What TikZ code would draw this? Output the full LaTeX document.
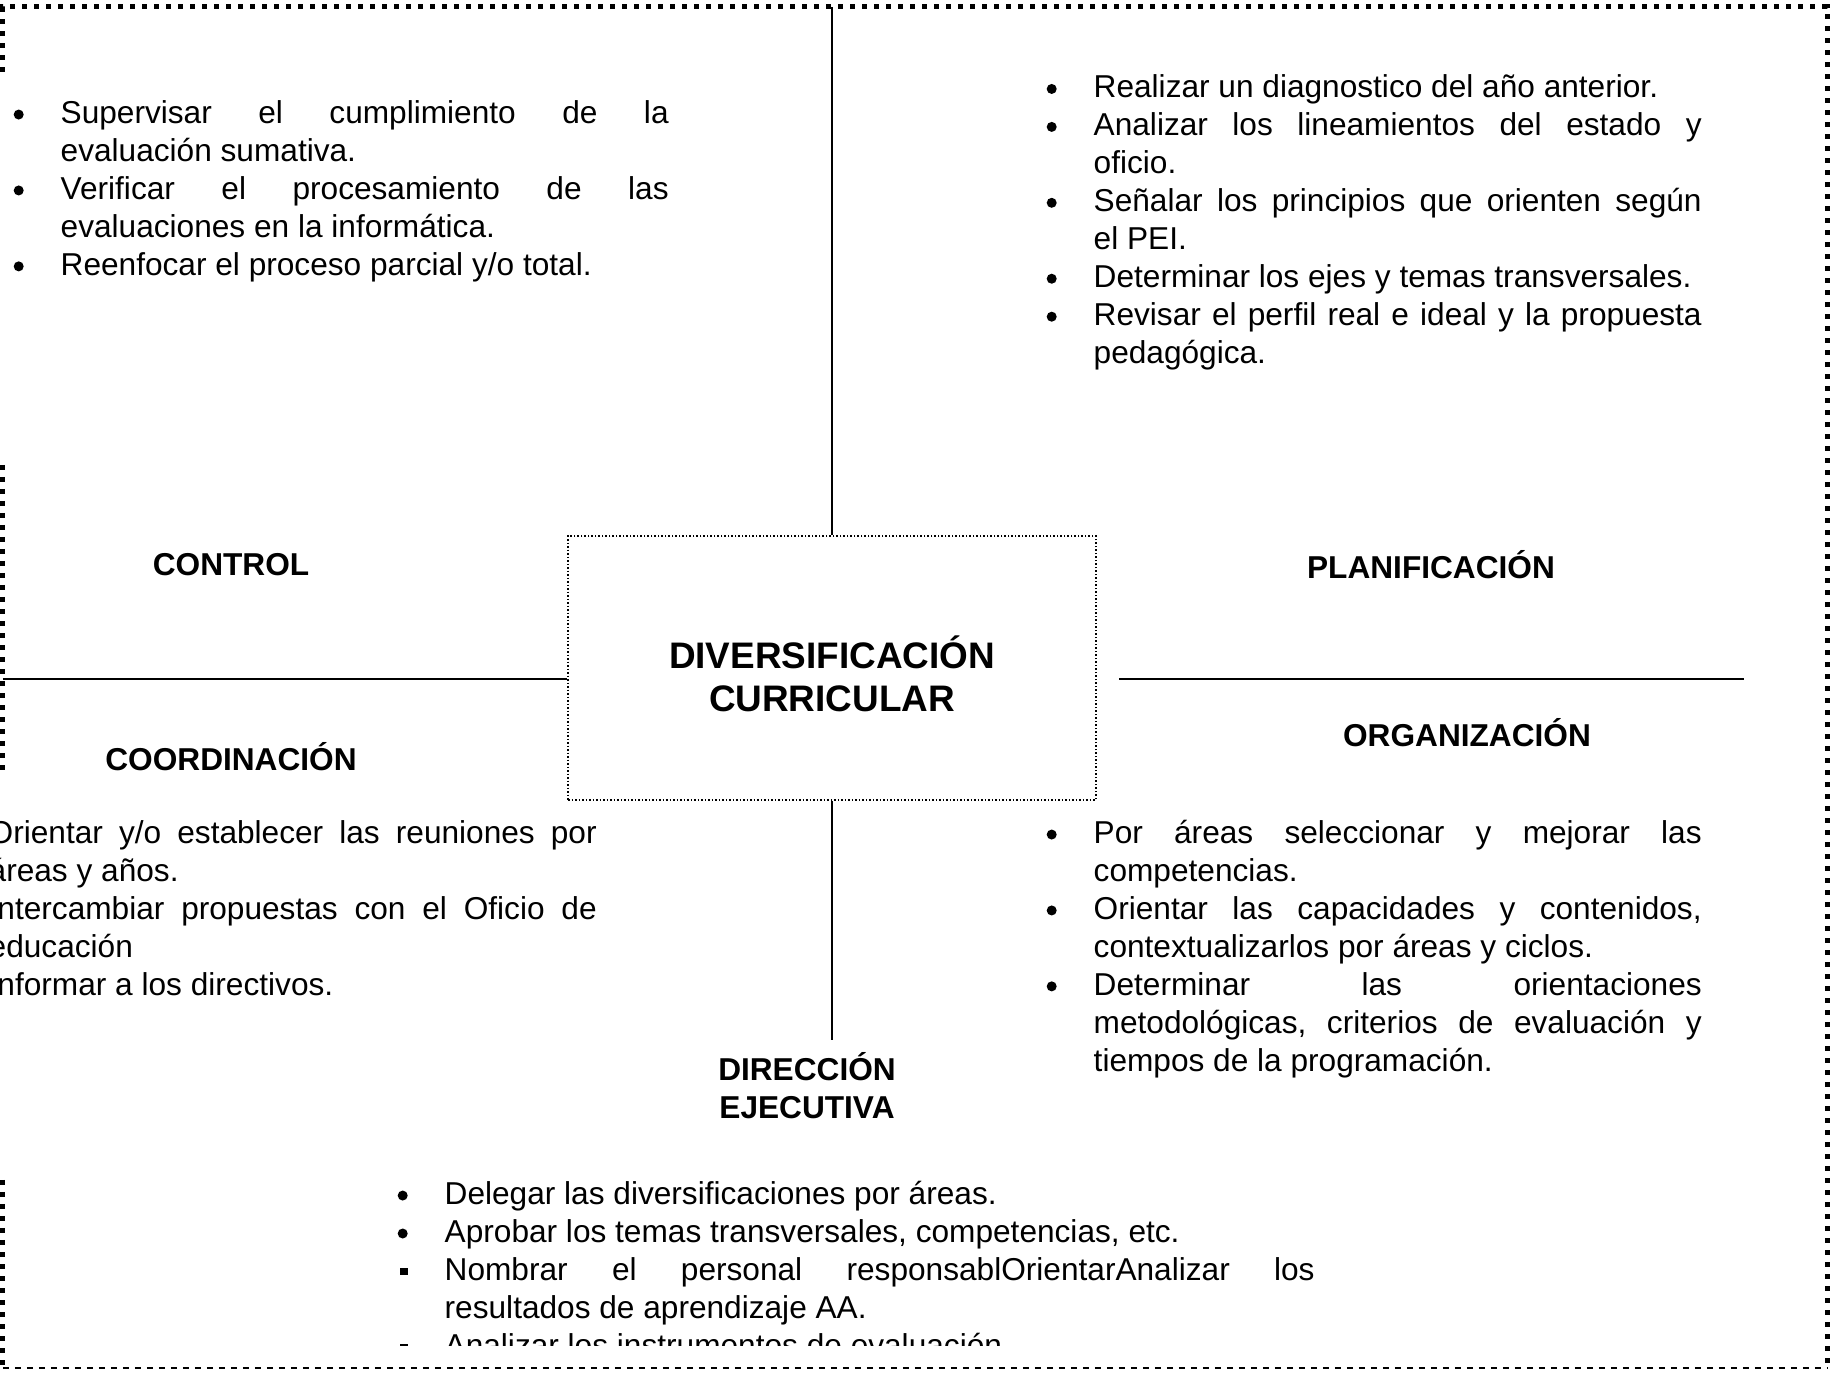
\documentclass[tikz,border=0pt]{standalone}
\usepackage{fontspec}
\setmainfont{Liberation Sans}
\usetikzlibrary{positioning}

\hyphenpenalty=10000
\exhyphenpenalty=10000
\tolerance=10000
\adjdemerits=0

\newcommand{\sinencoger}{\frenchspacing\spaceskip=\fontdimen2\font plus \fontdimen3\font minus 0pt\relax}
\newcommand{\punto}{\tikz[baseline=0pt]\fill (0.05,0.09) circle (0.05);}
\newcommand{\cuadro}{\tikz[baseline=0pt]\fill (0,0.05) rectangle (0.075,0.125);}
\newcommand{\bajar}[1]{\raisebox{-0.06cm}[\height][\depth]{#1}}
\newenvironment{vinetas}{\begin{list}{\punto}{%
  \setlength{\leftmargin}{0.5cm}\setlength{\labelwidth}{0.1cm}%
  \setlength{\labelsep}{0.37cm}\setlength{\itemsep}{0pt}%
  \setlength{\parsep}{0pt}\setlength{\topsep}{0pt}\setlength{\partopsep}{0pt}}}%
  {\end{list}}

\tikzset{
  texto/.style={anchor=base west, inner sep=0pt, font=\fontsize{9}{10.8}\selectfont\sinencoger, align=justify},
  titulo/.style={inner sep=0pt, align=center, font=\fontsize{9}{10.8}\selectfont\bfseries},
  caja/.style={draw, line width=0.015cm, dash pattern=on 0.015cm off 0.02cm,
    minimum width=5.28cm, minimum height=2.64cm, align=center,
    font=\fontsize{10.5}{12.2}\selectfont\bfseries},
  marco/.style={line width=0.05cm, dash pattern=on 0.05cm off 0.07cm},
  piso/.style={line width=0.02cm, dash pattern=on 0.06cm off 0.06cm},
  linea/.style={line width=0.02cm}
}

\begin{document}
\begin{tikzpicture}
  \useasboundingbox (0,0) rectangle (18.32,-13.75);
  % marco exterior
  \draw[marco] (0.03,-0.72) -- (0.03,-0.07) -- (18.27,-0.07) -- (18.27,-13.68);
  \draw[marco] (0.03,-4.65) -- (0.03,-7.77);
  \draw[marco] (0.03,-11.80) -- (0.03,-13.68);
  \draw[piso] (0.03,-13.68) -- (18.27,-13.68);

  \node[caja] (centro) at (8.32,-6.68) {\bajar{DIVERSIFICACIÓN}\\\bajar{CURRICULAR}};
  \coordinate (arriba) at (8.32,-0.07);
  \coordinate (abajo) at (8.32,-10.40);
  \coordinate (izq) at (0.03,-6.79);
  \coordinate (derA) at (11.19,-6.79);
  \coordinate (derB) at (17.44,-6.79);
  \draw[linea] (centro) -- (arriba);
  \draw[linea] (centro) -- (abajo);
  \draw[linea] (izq) -- (izq -| centro.west);
  \draw[linea] (derA) -- (derB);

  \node[titulo] (control) at (2.31,-5.65) {CONTROL};
  \node[titulo] (planif) at (14.31,-5.65) {PLANIFICACIÓN};
  \node[titulo] (coord) at (2.31,-7.57) {COORDINACIÓN};
  \node[titulo] (organ) at (14.67,-7.33) {ORGANIZACIÓN};
  \node[titulo] (direc) at (8.07,-10.86) {DIRECCIÓN\\EJECUTIVA};

  \node[texto, text width=6.58cm] (listaCtrl) at (0.10,-0.856) {\begin{vinetas}
    \item Supervisar el cumplimiento de la evaluación sumativa.
    \item Verificar el procesamiento de las evaluaciones en la informática.
    \item Reenfocar el proceso parcial y/o total.
  \end{vinetas}};
  \node[texto, text width=6.58cm] (listaPlan) at (10.43,-0.60) {\begin{vinetas}
    \item Realizar un diagnostico del año anterior.
    \item Analizar los lineamientos del estado y oficio.
    \item Señalar los principios que orienten según el PEI.
    \item Determinar los ejes y temas transversales.
    \item Revisar el perfil real e ideal y la propuesta pedagógica.
  \end{vinetas}};
  \node[texto, text width=6.58cm] (listaCoord) at (-0.62,-8.056) {\begin{vinetas}
    \item Orientar y/o establecer las reuniones por áreas y años.
    \item Intercambiar propuestas con el Oficio de educación
    \item Informar a los directivos.
  \end{vinetas}};
  \node[texto, text width=6.58cm] (listaOrg) at (10.43,-8.056) {\begin{vinetas}
    \item Por áreas seleccionar y mejorar las competencias.
    \item Orientar las capacidades y contenidos, contextualizarlos por áreas y ciclos.
    \item Determinar las orientaciones metodológicas, criterios de evaluación y tiempos de la programación.
  \end{vinetas}};
  \begin{scope}
    \clip (0,-0.07) rectangle (18.32,-13.46);
    \node[texto, text width=9.2cm] (listaDir) at (3.94,-11.666) {\begin{vinetas}
      \item Delegar las diversificaciones por áreas.
      \item Aprobar los temas transversales, competencias, etc.
      \item[\cuadro] Nombrar el personal responsablOrientarAnalizar los resultados de aprendizaje AA.
      \item[\cuadro] Analizar los instrumentos de evaluación.
    \end{vinetas}};
  \end{scope}
\end{tikzpicture}
\end{document}
